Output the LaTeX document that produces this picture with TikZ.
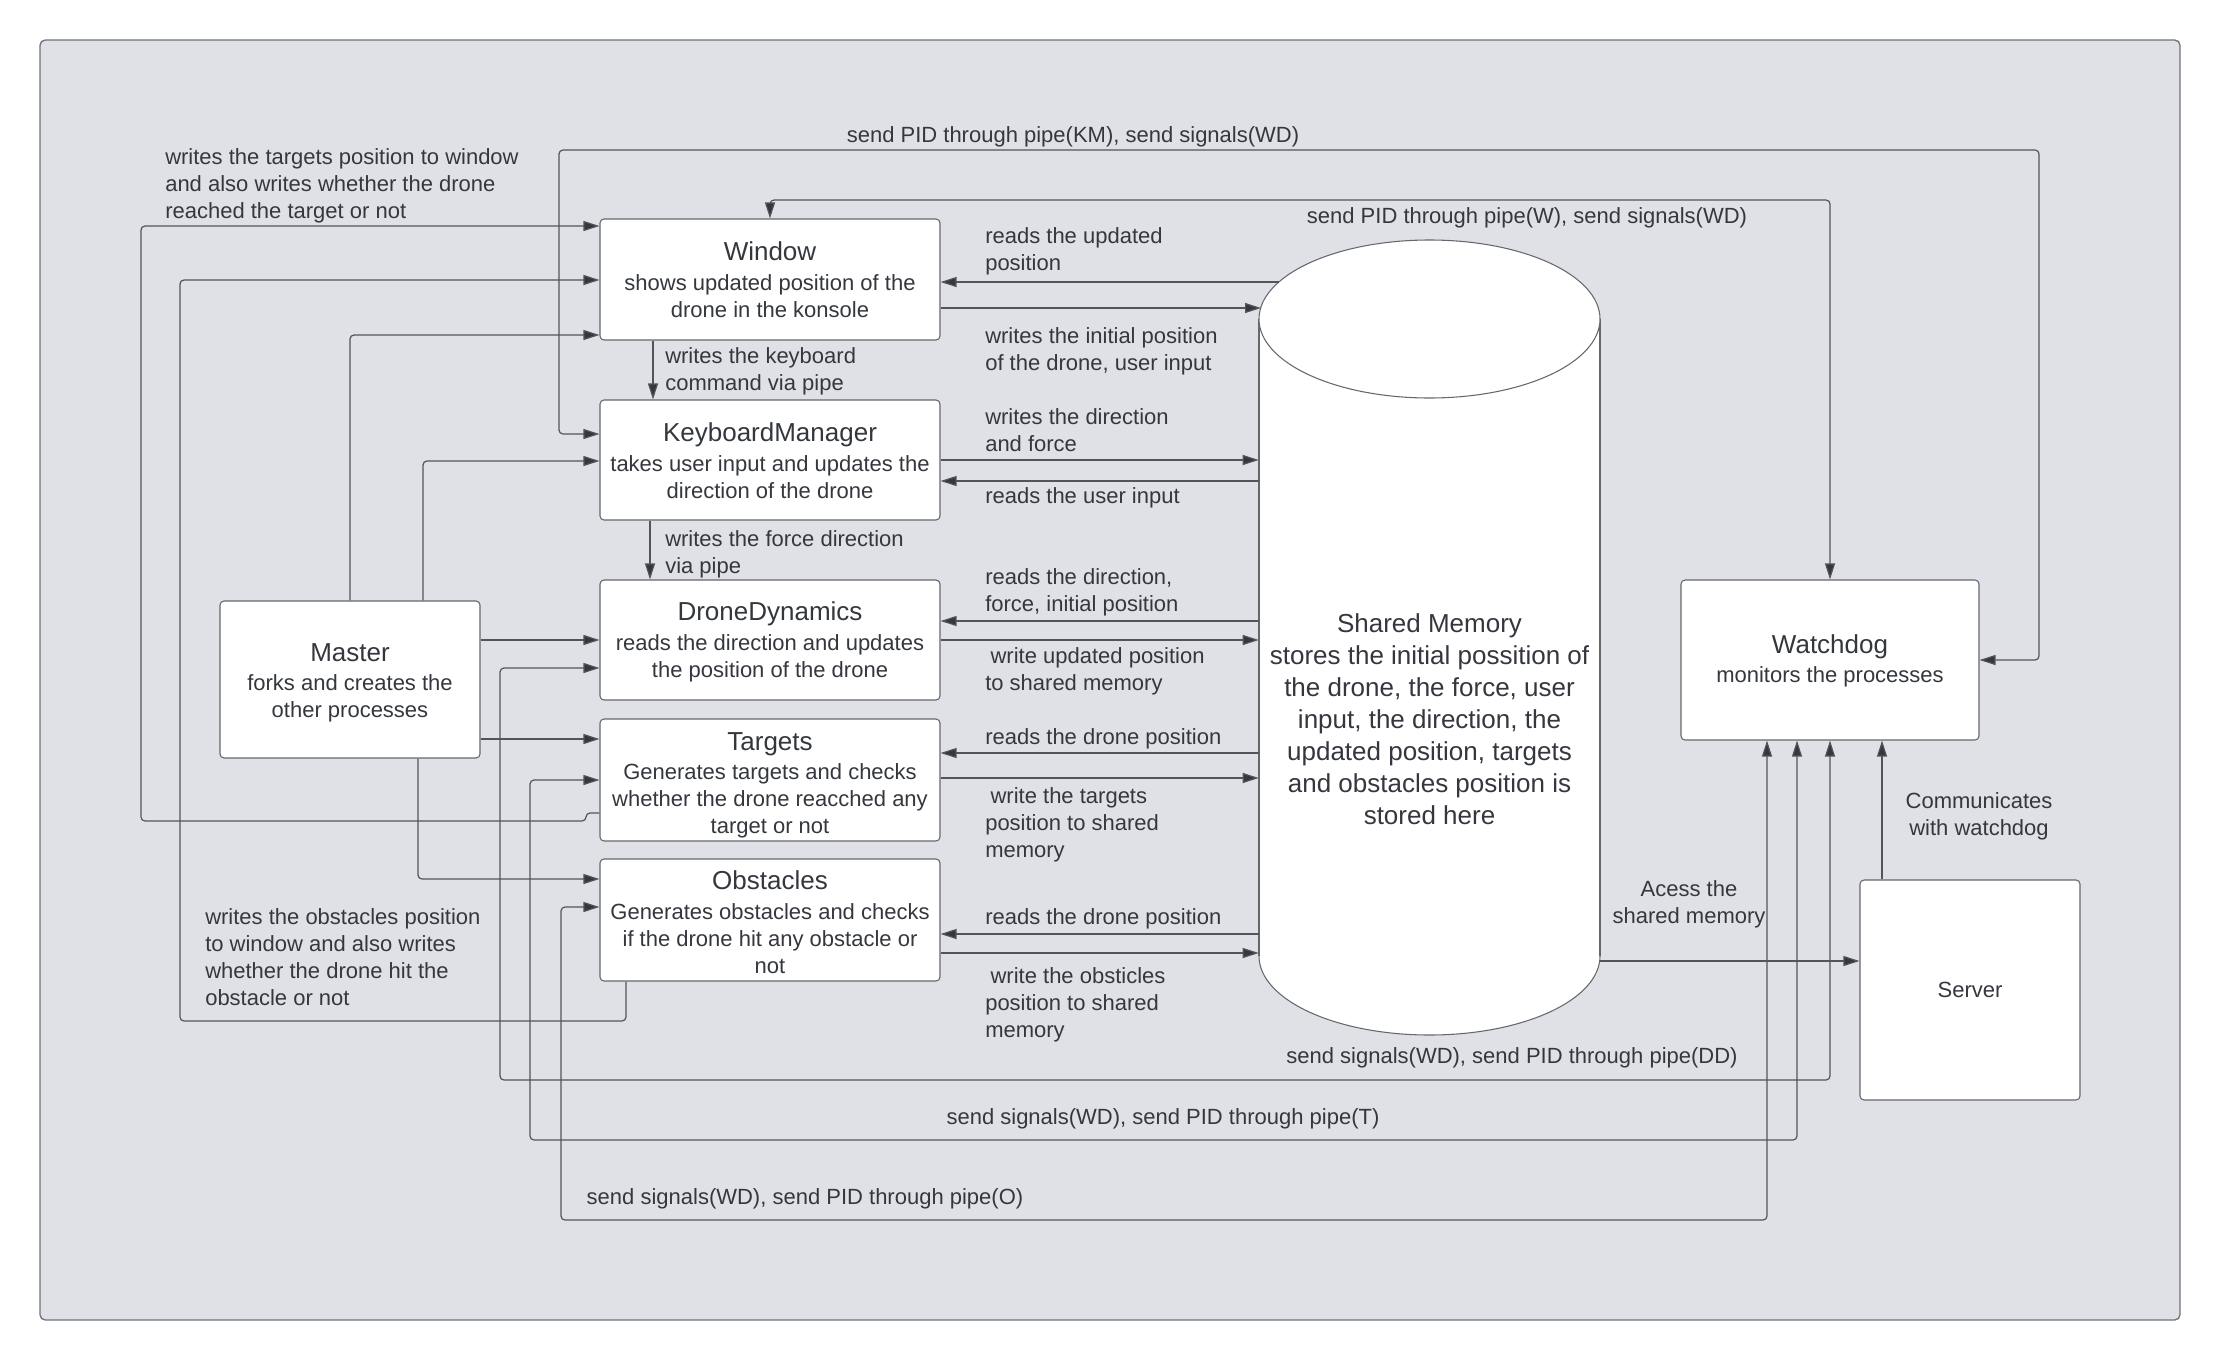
\documentclass[tikz,border=0pt]{standalone}
\usepackage{fontspec}
\setmainfont{Liberation Sans}
\usetikzlibrary{arrows.meta}
\definecolor{bgc}{RGB}{223,225,230}
\definecolor{framec}{RGB}{112,116,122}
\definecolor{boxc}{RGB}{100,104,110}
\definecolor{lnc}{RGB}{80,85,92}
\definecolor{txtc}{RGB}{52,56,62}
\newcommand\boxtitle[2][0pt]{{\fontsize{19.5}{20.25}\selectfont\rule{0pt}{#1}#2}\\[2pt]}
\tikzset{
  box/.style={draw=boxc, fill=white, rounded corners=3pt, inner sep=0pt, align=center,
    text=txtc, font=\fontsize{16.5}{20.25}\selectfont, line width=0.8pt},
  arr/.style={draw=lnc, line width=0.9pt, rounded corners=3pt,
    -{Triangle[length=12pt,width=7.5pt,fill=txtc]}},
  biarr/.style={draw=lnc, line width=0.9pt, rounded corners=3pt,
    {Triangle[length=12pt,width=7.5pt,fill=txtc]}-{Triangle[length=12pt,width=7.5pt,fill=txtc]}},
  lbl/.style={text=txtc, font=\fontsize{16.5}{20.25}\selectfont, align=left, inner sep=0pt, anchor=west, yshift=-2.25pt},
  clbl/.style={text=txtc, font=\fontsize{16.5}{20.25}\selectfont, align=center, inner sep=0pt, yshift=-2.25pt},
}
\begin{document}
\begin{tikzpicture}[x=0.75pt,y=-0.75pt]
\useasboundingbox (0,0) rectangle (2220,1360);
\draw[fill=bgc, draw=framec, line width=1pt, rounded corners=4pt] (40,40) rectangle (2180,1320);

% shared memory cylinder
\filldraw[fill=white, draw=boxc, line width=0.8pt] (1429.5,956) ellipse (170.5 and 79);
\fill[white] (1259.6,319) rectangle (1599.4,956);
\draw[boxc, line width=0.8pt] (1259,319) -- (1259,956);
\draw[boxc, line width=0.8pt] (1600,319) -- (1600,956);
\filldraw[fill=white, draw=boxc, line width=0.8pt] (1429.5,319) ellipse (170.5 and 79);
\node[text=txtc, align=center, inner sep=0pt, minimum width=255.75pt, font=\fontsize{19.5}{24}\selectfont] (sm) at (1429.5,719)
  {Shared Memory\\stores the initial possition of\\the drone, the force, user\\input, the direction, the\\updated position, targets\\and obstacles position is\\stored here};
\coordinate (smA) at (1279,282);
\coordinate (smB) at (1261,308);

% boxes
\node[box, minimum width=255pt, minimum height=90.75pt] (win) at (770,279.5)
  {\boxtitle{Window}shows updated position of the\\drone in the konsole};
\node[box, minimum width=255pt, minimum height=90pt] (km) at (770,460)
  {\boxtitle[15pt]{KeyboardManager}takes user input and updates the\\direction of the drone};
\node[box, minimum width=255pt, minimum height=90pt] (dd) at (770,640)
  {\boxtitle[17pt]{DroneDynamics}reads the direction and updates\\the position of the drone};
\node[box, minimum width=255pt, minimum height=91.5pt] (tg) at (770,780)
  {\boxtitle[21.5pt]{Targets}Generates targets and checks\\whether the drone reacched any\\target or not};
\node[box, minimum width=255pt, minimum height=91.5pt] (ob) at (770,920)
  {\boxtitle[17.5pt]{Obstacles}Generates obstacles and checks\\if the drone hit any obstacle or\\not};
\node[box, minimum width=195pt, minimum height=117.75pt] (ms) at (350,679.5)
  {\boxtitle[18.5pt]{Master}forks and creates the\\other processes};
\node[box, minimum width=223.5pt, minimum height=120pt] (wd) at (1830,660)
  {\boxtitle[15.5pt]{Watchdog}monitors the processes};
\node[box, minimum width=165pt, minimum height=165pt] (sv) at (1970,990) {Server};

% shared memory connectors
\draw[arr] (smA) -- (win.east |- smA);
\draw[arr] (win.east |- smB) -- (smB);
\draw[arr] (km.east |- 0,460) -- (sm.west |- 0,460);
\draw[arr] (sm.west |- 0,481) -- (km.east |- 0,481);
\draw[arr] (sm.west |- 0,621) -- (dd.east |- 0,621);
\draw[arr] (dd.east |- 0,640) -- (sm.west |- 0,640);
\draw[arr] (sm.west |- 0,753) -- (tg.east |- 0,753);
\draw[arr] (tg.east |- 0,778) -- (sm.west |- 0,778);
\draw[arr] (sm.west |- 0,934) -- (ob.east |- 0,934);
\draw[arr] (ob.east |- 0,953) -- (sm.west |- 0,953);
\draw[arr] (sm.east |- 0,961) -- (sv.west |- 0,961);

% pipes
\draw[arr] (win.south -| 653,0) -- (km.north -| 653,0);
\draw[arr] (km.south -| 650,0) -- (dd.north -| 650,0);

% master
\draw[arr] (ms.east |- dd.west) -- (dd.west);
\draw[arr] (ms.east |- 0,739) -- (tg.west |- 0,739);
\draw[arr] (ms.south -| 418,0) |- (ob.west |- 0,879);
\draw[arr] (ms.north) |- (win.west |- 0,335);
\draw[arr] (ms.north -| 423,0) |- (km.west |- 0,461);

% targets / obstacles to window
\draw[arr] (tg.west |- 0,813) -- (586,813) -- (586,821) -- (141,821) -- (141,226) -- (win.west |- 0,226);
\draw[arr] (ob.south -| 626,0) -- (626,1021) -- (180,1021) -- (180,280) -- (win.west |- 0,280);

% watchdog
\draw[biarr] (km.west |- 0,434) -- (559,434) -- (559,150) -- (2039,150) -- (2039,660) -- (wd.east);
\draw[biarr] (win.north) -- (win.north |- 0,200) -- (wd.north |- 0,200) -- (wd.north);
\draw[biarr] (dd.west |- 0,668) -- (500,668) -- (500,1080) -- (wd.south |- 0,1080) -- (wd.south);
\draw[biarr] (tg.west) -- (530,780) -- (530,1140) -- (1797,1140) -- (wd.south -| 1797,0);
\draw[biarr] (ob.west |- 0,907) -- (561,907) -- (561,1220) -- (1767,1220) -- (wd.south -| 1767,0);
\draw[arr] (sv.north -| 1882,0) -- (wd.south -| 1882,0);

% labels
\node[lbl] (l1) at (985,248) {reads the updated\\position};
\node[lbl] (l2) at (985,348) {writes the initial position\\of the drone, user input};
\node[lbl] (l3) at (665,368) {writes the keyboard\\command via pipe};
\node[lbl] (l4) at (985,427) {writes the direction\\and force};
\node[lbl] (l5) at (985,495) {reads the user input};
\node[lbl] (l6) at (665,551) {writes the force direction\\via pipe};
\node[lbl] (l7) at (985,589) {reads the direction,\\force, initial position};
\node[lbl] (l8) at (985,668) {\hspace*{4pt}write updated position\\to shared memory};
\node[lbl] (l9) at (985,736) {reads the drone position};
\node[lbl] (l10) at (985,822) {\hspace*{4pt}write the targets\\position to shared\\memory};
\node[lbl] (l11) at (985,916) {reads the drone position};
\node[lbl] (l12) at (985,1002) {\hspace*{4pt}write the obsticles\\position to shared\\memory};
\node[lbl] (l13) at (165,183) {writes the targets position to window\\and also writes whether the drone\\reached the target or not};
\node[lbl] (l14) at (205,954) {writes the obstacles position\\to window and also writes\\whether the drone hit the\\obstacle or not};
\node[clbl] (l15) at (1073,134) {send PID through pipe(KM), send signals(WD)};
\node[clbl] (l16) at (1527,215) {send PID through pipe(W), send signals(WD)};
\node[clbl] (l17) at (1512,1055) {send signals(WD), send PID through pipe(DD)};
\node[clbl] (l18) at (1163,1116) {send signals(WD), send PID through pipe(T)};
\node[clbl] (l19) at (805,1196) {send signals(WD), send PID through pipe(O)};
\node[clbl] (l20) at (1689,901) {Acess the\\shared memory};
\node[clbl] (l21) at (1979,813) {Communicates\\with watchdog};
\end{tikzpicture}
\end{document}
